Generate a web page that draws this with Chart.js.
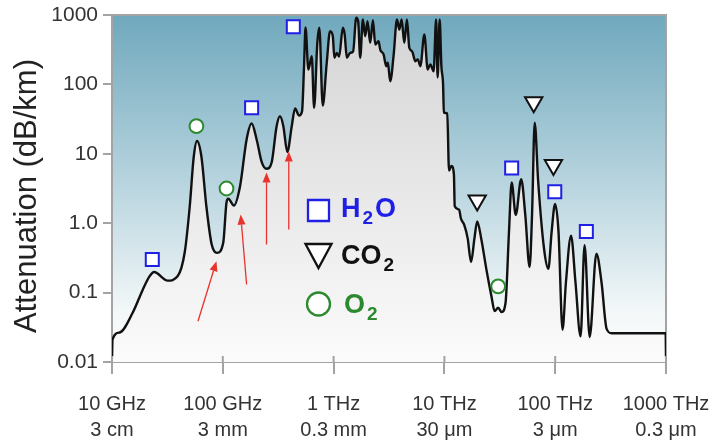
<!DOCTYPE html>
<html>
<head>
<meta charset="utf-8">
<script src="https://cdn.jsdelivr.net/npm/chart.js@4/dist/chart.umd.min.js"></script>
<style>
  html, body { margin: 0; padding: 0; background: #fff; }
</style>
</head>
<body>
<canvas id="chart" width="714" height="443"></canvas>
<script>
const fontFamily = '"Liberation Sans", Arial, sans-serif';
const axisColor = "#a3a3a3";

// attenuation curve: frequency in GHz, attenuation in dB/km
const freqGHz = [
  10.02, 10.1, 11.7, 15.4, 19.0, 21.8, 24.0, 31.8, 39.2, 45.3,
  50.3, 54.7, 58.5, 64.1, 71.1, 79.4, 88.7, 101, 108, 112,
  126, 143, 164, 182, 202, 225, 248, 276, 306, 328,
  352, 382, 419, 449, 488, 519, 541, 558, 592, 635,
  667, 713, 743, 798, 867, 929, 984, 1016, 1069, 1122,
  1211, 1259, 1316, 1409, 1500, 1600, 1667, 1738, 1837, 1928,
  2023, 2138, 2265, 2377, 2543, 2636, 2825, 2987, 3083, 3245,
  3475, 3733, 3917, 4111, 4345, 4592, 4822, 5104, 5470, 5754,
  6067, 6592, 7063, 7464, 7998, 8414, 8690, 9064, 9390, 9730,
  9886, 10610, 11010, 11560, 12190, 12390, 13580, 14070, 15100, 16220,
  17400, 18670, 19770, 21480, 23880, 26550, 28440, 30550, 32810, 35650,
  38280, 40460, 44060, 49330, 53700, 58750, 61800, 65330, 70150, 79250,
  86700, 92900, 99770, 107100, 116500, 125000, 139000, 152400, 169400, 184100,
  204700, 235400, 261800, 291200, 323700, 993000, 1000000
];
const attenuation = [
  0.012, 0.021, 0.0266, 0.0516, 0.111, 0.171, 0.198, 0.149, 0.173, 0.378,
  1.74, 9.14, 15.3, 9.14, 1.74, 0.493, 0.374, 0.527, 1.99, 2.25,
  1.80, 3.38, 16.1, 27.3, 16.1, 7.50, 6.08, 7.50, 25.0, 34.8,
  25.0, 10.6, 25.0, 45.0, 35.6, 40.7, 183, 661, 164, 255,
  46.0, 397, 654, 49.7, 205, 585, 495, 242, 285, 252,
  654, 524, 242, 285, 298, 912, 805, 242, 861, 495,
  815, 397, 841, 376, 419, 318, 270, 183, 207, 111,
  255, 861, 618, 861, 397, 861, 337, 301, 216, 229,
  183, 524, 164, 194, 155, 861, 126, 861, 183, 99.7,
  39.4, 38.1, 5.74, 6.67, 5.03, 1.75, 1.57, 1.18, 0.946, 0.604,
  0.275, 0.604, 1.06, 0.604, 0.220, 0.0895, 0.0541, 0.0605, 0.0524, 0.0719,
  0.757, 3.85, 1.32, 4.31, 1.32, 0.233, 1.32, 28.0, 4.06, 0.432,
  0.220, 0.757, 1.90, 0.757, 0.0292, 0.141, 0.661, 0.141, 0.0234, 0.482,
  0.0229, 0.365, 0.141, 0.030, 0.026, 0.026, 0.012
];

// absorption line markers
const h2oFreq = [23.1, 182, 433, 40460, 99100, 191000];
const h2oAtt = [0.300, 46.0, 676, 6.22, 2.85, 0.757];
const co2Freq = [19770, 63970, 96400];
const co2Att = [2.13, 55.1, 6.90];
const o2Freq = [57.8, 108, 30550];
const o2Att = [25.0, 3.16, 0.123];

// red arrows into the transmission windows
const arrowTailFreq = [59.7, 164, 248, 394];
const arrowTailAtt = [0.0387, 0.131, 0.493, 0.811];
const arrowHeadFreq = [87.7, 145, 248, 394];
const arrowHeadAtt = [0.283, 1.33, 5.38, 10.8];

const freqTicks = [10, 100, 1000, 10000, 100000, 1000000];
const freqLabels = [
  ["10 GHz", "3 cm"],
  ["100 GHz", "3 mm"],
  ["1 THz", "0.3 mm"],
  ["10 THz", "30 μm"],
  ["100 THz", "3 μm"],
  ["1000 THz", "0.3 μm"]
];
const attTicks = [0.01, 0.1, 1, 10, 100, 1000];
const attLabels = ["0.01", "0.1", "1.0", "10", "100", "1000"];

const blue = "#1f1fe6";
const green = "#2b8a2e";
const red = "#e8322c";

// legend rows: formula written as base + subscript + tail
const legendItems = [
  { shape: "rect", color: blue, base: "H", sub: "2", tail: "O", indent: 0 },
  { shape: "triangle", color: "#111", base: "CO", sub: "2", tail: "", indent: 0 },
  { shape: "circle", color: green, base: "O", sub: "2", tail: "", indent: 3 }
];

const toPoints = (xs, ys) => xs.map((x, i) => ({ x: x, y: ys[i] }));

function markerSet(label, xs, ys, style, color, radius, rotation) {
  return {
    label: label,
    data: toPoints(xs, ys),
    showLine: false,
    pointStyle: style,
    pointRadius: radius,
    pointRotation: rotation || 0,
    pointBorderWidth: 2,
    pointBorderColor: color,
    pointBackgroundColor: "#fff",
    clip: false,
    order: 0
  };
}

const decorations = {
  id: "decorations",
  beforeDraw(chart) {
    const { ctx, chartArea: a } = chart;
    const g = ctx.createLinearGradient(0, a.top, 0, a.bottom);
    g.addColorStop(0, "#70a8bd");
    g.addColorStop(0.45, "#b2d1dc");
    g.addColorStop(0.85, "#f2f7f8");
    g.addColorStop(1, "#ffffff");
    ctx.save();
    ctx.fillStyle = g;
    ctx.fillRect(a.left, a.top, a.width, a.height);

    // axis title, placed by hand
    ctx.translate(27, 196);
    ctx.rotate(-Math.PI / 2);
    ctx.fillStyle = "#222";
    ctx.font = "31px " + fontFamily;
    ctx.textAlign = "center";
    ctx.textBaseline = "middle";
    ctx.fillText("Attenuation (dB/km)", 0, 0);
    ctx.restore();
  },
  beforeDatasetsDraw(chart) {
    // top and right sides of the frame
    const { ctx, chartArea: a } = chart;
    ctx.save();
    ctx.strokeStyle = axisColor;
    ctx.lineWidth = 2;
    ctx.beginPath();
    ctx.moveTo(a.left, a.top);
    ctx.lineTo(a.right, a.top);
    ctx.lineTo(a.right, a.bottom);
    ctx.stroke();
    ctx.restore();
  },
  afterDatasetsDraw(chart) {
    const { ctx, chartArea: a, scales } = chart;
    ctx.save();

    // tick marks poke a little into the plot
    ctx.strokeStyle = axisColor;
    ctx.lineWidth = 2;
    ctx.beginPath();
    freqTicks.forEach((v) => {
      const px = scales.x.getPixelForValue(v);
      ctx.moveTo(px, a.bottom);
      ctx.lineTo(px, a.bottom - 6);
    });
    ctx.stroke();

    // arrows
    ctx.strokeStyle = red;
    ctx.fillStyle = red;
    ctx.lineWidth = 1.3;
    arrowTailFreq.forEach((f, i) => {
      const x0 = scales.x.getPixelForValue(f);
      const y0 = scales.y.getPixelForValue(arrowTailAtt[i]);
      const x1 = scales.x.getPixelForValue(arrowHeadFreq[i]);
      const y1 = scales.y.getPixelForValue(arrowHeadAtt[i]);
      const ang = Math.atan2(y1 - y0, x1 - x0);
      const len = 10, half = 4;
      const bx = x1 - len * Math.cos(ang);
      const by = y1 - len * Math.sin(ang);
      ctx.beginPath();
      ctx.moveTo(x0, y0);
      ctx.lineTo(bx, by);
      ctx.stroke();
      ctx.beginPath();
      ctx.moveTo(x1, y1);
      ctx.lineTo(bx - half * Math.sin(ang), by + half * Math.cos(ang));
      ctx.lineTo(bx + half * Math.sin(ang), by - half * Math.cos(ang));
      ctx.closePath();
      ctx.fill();
    });

    // legend with subscripts
    const cx = 318.5, tx = 341, rows = [217, 264, 313];
    const bigFont = "bold 27px " + fontFamily;
    const subFont = "bold 19px " + fontFamily;
    legendItems.forEach((item, i) => {
      const base = rows[i];
      const cy = base - 8;
      ctx.lineWidth = 2.3;
      ctx.strokeStyle = item.color;
      ctx.fillStyle = "#fff";
      ctx.beginPath();
      if (item.shape === "rect") {
        ctx.rect(cx - 10.5, cy - 9, 21, 21);
      } else if (item.shape === "triangle") {
        ctx.moveTo(cx - 13, cy - 12);
        ctx.lineTo(cx + 13, cy - 12);
        ctx.lineTo(cx, cy + 12);
        ctx.closePath();
      } else {
        ctx.arc(cx, cy - 1, 11.5, 0, Math.PI * 2);
      }
      ctx.fill();
      ctx.stroke();

      ctx.fillStyle = item.color;
      ctx.textBaseline = "alphabetic";
      let x = tx + item.indent;
      ctx.font = bigFont;
      ctx.fillText(item.base, x, base);
      x += ctx.measureText(item.base).width + 2;
      ctx.font = subFont;
      ctx.fillText(item.sub, x, base + 7);
      x += ctx.measureText(item.sub).width + 2;
      ctx.font = bigFont;
      ctx.fillText(item.tail, x, base);
    });
    ctx.restore();
  }
};

Chart.defaults.font.family = fontFamily;

new Chart(document.getElementById("chart"), {
  type: "line",
  data: {
    datasets: [
      {
        label: "Attenuation",
        data: toPoints(freqGHz, attenuation),
        borderColor: "#111",
        borderWidth: 2.4,
        borderJoinStyle: "round",
        pointRadius: 0,
        cubicInterpolationMode: "monotone",
        fill: "start",
        backgroundColor: (c) => {
          const a = c.chart.chartArea;
          if (!a) return "#ddd";
          const g = c.chart.ctx.createLinearGradient(0, a.top, 0, a.bottom);
          g.addColorStop(0, "#d4d4d4");
          g.addColorStop(1, "#fbfbfb");
          return g;
        },
        order: 1
      },
      markerSet("H2O", h2oFreq, h2oAtt, "rect", blue, 9.2),
      markerSet("CO2", co2Freq, co2Att, "triangle", "#111", 10, 180),
      markerSet("O2", o2Freq, o2Att, "circle", green, 6.9)
    ]
  },
  options: {
    responsive: false,
    animation: false,
    events: [],
    layout: { padding: { top: 15, right: 48, left: 0, bottom: 0 } },
    plugins: {
      legend: { display: false },
      tooltip: { enabled: false }
    },
    scales: {
      x: {
        type: "logarithmic",
        min: 10,
        max: 1000000,
        afterBuildTicks: (s) => { s.ticks = freqTicks.map((value) => ({ value })); },
        afterFit: (s) => {
          s.height = 81;
          s.paddingLeft = 0;
          s.paddingRight = 0;
        },
        grid: { drawOnChartArea: false, tickLength: 12, color: axisColor, lineWidth: 2 },
        border: { color: axisColor, width: 2 },
        ticks: {
          autoSkip: false,
          maxRotation: 0,
          padding: 17,
          color: "#333",
          font: { size: 20, lineHeight: 1.3 },
          callback: (v, i) => freqLabels[i]
        }
      },
      y: {
        type: "logarithmic",
        min: 0.01,
        max: 1000,
        afterBuildTicks: (s) => { s.ticks = attTicks.map((value) => ({ value })); },
        afterFit: (s) => {
          s.width = 112;
          s.paddingTop = 0;
          s.paddingBottom = 0;
        },
        grid: { drawOnChartArea: false, tickLength: 9, color: axisColor, lineWidth: 2 },
        border: { color: axisColor, width: 2 },
        ticks: {
          padding: 5,
          color: "#333",
          font: { size: 21 },
          callback: (v, i) => attLabels[i]
        }
      }
    }
  },
  plugins: [decorations]
});
</script>
</body>
</html>
